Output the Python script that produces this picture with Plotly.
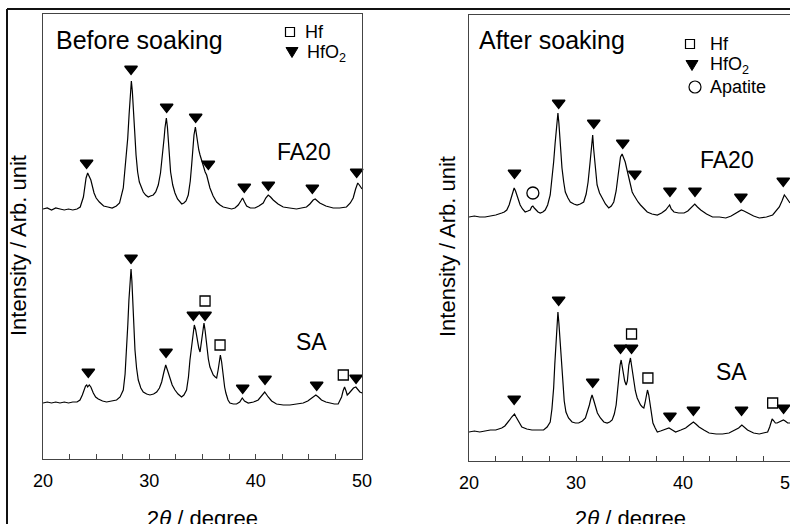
import plotly.graph_objects as go

# ---------------- data (2theta in degree, intensity in arb. unit) ----------------
bf_fa20_x = [20.0, 20.4, 20.8, 21.2, 21.6, 22.0, 22.4, 22.8, 23.2, 23.5, 23.8, 24.05, 24.2, 24.35, 24.5, 24.8, 25.0, 25.3, 25.7, 26.1, 26.5, 26.9, 27.2, 27.55, 27.8, 27.97, 28.1, 28.2, 28.31, 28.4, 28.5, 28.62, 28.75, 28.9, 29.06, 29.25, 29.43, 29.65, 29.9, 30.1, 30.37, 30.6, 30.84, 31.05, 31.25, 31.4, 31.47, 31.6, 31.7, 31.78, 31.9, 32.0, 32.2, 32.41, 32.65, 32.88, 33.05, 33.25, 33.45, 33.66, 33.85, 33.98, 34.1, 34.2, 34.33, 34.42, 34.5, 34.65, 34.77, 34.95, 35.1, 35.25, 35.39, 35.55, 35.7, 36.0, 36.33, 36.65, 36.95, 37.35, 37.74, 38.05, 38.36, 38.6, 38.77, 38.95, 39.15, 39.5, 39.93, 40.3, 40.71, 40.95, 41.18, 41.4, 41.65, 42.1, 42.59, 43.2, 43.84, 44.3, 44.78, 45.1, 45.41, 45.6, 45.8, 46.03, 46.6, 47.29, 47.9, 48.54, 48.9, 49.17, 49.4, 49.6, 49.75, 49.95, 50.0]
bf_fa20_y = [250, 251, 249, 251, 250, 249, 250, 249, 250, 252, 262, 281, 286, 282, 279, 266, 261, 257, 253, 252, 251, 253, 256, 271, 298, 321, 345, 364, 378, 368, 354, 328, 304, 287, 277, 271, 267, 264, 262, 263, 264, 267, 274, 286, 304, 322, 331, 341, 332, 321, 302, 287, 274, 266, 260, 257, 255, 256, 258, 264, 278, 294, 311, 324, 332, 324, 317, 309, 304, 297, 292, 287, 284, 277, 271, 263, 257, 254, 252, 251, 250, 251, 254, 258, 261, 257, 253, 251, 251, 253, 256, 261, 264, 262, 259, 255, 252, 251, 250, 251, 252, 255, 259, 260, 258, 256, 253, 251, 251, 252, 256, 261, 270, 276, 274, 271, 270]

bf_sa_x = [20.0, 20.4, 20.8, 21.2, 21.6, 22.0, 22.4, 22.8, 23.2, 23.48, 23.7, 23.86, 24.0, 24.11, 24.2, 24.35, 24.5, 24.73, 24.95, 25.2, 25.6, 25.98, 26.5, 26.92, 27.25, 27.55, 27.72, 27.86, 27.98, 28.08, 28.18, 28.28, 28.36, 28.43, 28.55, 28.65, 28.8, 28.96, 29.2, 29.43, 29.75, 30.06, 30.4, 30.69, 30.95, 31.16, 31.35, 31.54, 31.7, 31.94, 32.15, 32.41, 32.7, 33.03, 33.25, 33.5, 33.68, 33.82, 33.95, 34.07, 34.23, 34.36, 34.51, 34.65, 34.77, 34.9, 35.0, 35.14, 35.25, 35.39, 35.55, 35.7, 36.01, 36.2, 36.33, 36.47, 36.58, 36.68, 36.8, 36.95, 37.08, 37.2, 37.4, 37.58, 37.9, 38.2, 38.5, 38.74, 38.95, 39.3, 39.8, 40.24, 40.55, 40.85, 41.18, 41.5, 41.96, 42.6, 43.22, 43.9, 44.47, 44.9, 45.25, 45.66, 45.9, 46.19, 46.6, 46.98, 47.4, 47.76, 48.08, 48.22, 48.36, 48.5, 48.61, 48.8, 49.02, 49.2, 49.42, 49.6, 49.8, 50.0]
bf_sa_y = [56, 57, 56, 57, 56, 57, 56, 57, 57, 59, 64, 69, 73, 74, 72, 74, 72, 66, 62, 60, 58, 57, 58, 59, 62, 69, 85, 109, 135, 159, 180, 190, 178, 159, 132, 109, 91, 79, 71, 67, 65, 64, 65, 67, 71, 77, 86, 94, 89, 81, 74, 69, 65, 62, 64, 69, 82, 99, 112, 122, 134, 129, 119, 111, 107, 116, 126, 136, 128, 112, 100, 92, 84, 82, 81, 89, 99, 104, 97, 82, 72, 66, 59, 56, 55, 55, 57, 61, 58, 56, 57, 59, 63, 67, 62, 58, 55, 54, 54, 55, 56, 58, 61, 64, 62, 59, 57, 56, 55, 55, 62, 68, 72, 68, 64, 66, 69, 71, 72, 70, 67, 66]

af_fa20_x = [20.0, 20.5, 21.0, 21.5, 22.0, 22.5, 23.06, 23.3, 23.53, 23.75, 23.94, 24.1, 24.22, 24.35, 24.47, 24.6, 24.78, 25.0, 25.25, 25.5, 25.72, 25.85, 25.97, 26.1, 26.25, 26.45, 26.66, 26.9, 27.12, 27.35, 27.59, 27.75, 27.91, 28.05, 28.16, 28.31, 28.4, 28.47, 28.58, 28.69, 28.85, 29.0, 29.25, 29.47, 29.8, 30.1, 30.4, 30.72, 30.95, 31.13, 31.3, 31.41, 31.56, 31.65, 31.75, 31.85, 31.97, 32.2, 32.44, 32.75, 33.06, 33.3, 33.53, 33.75, 33.94, 34.05, 34.16, 34.31, 34.45, 34.6, 34.75, 34.94, 35.1, 35.25, 35.4, 35.56, 35.8, 36.03, 36.35, 36.66, 37.1, 37.6, 38.0, 38.38, 38.6, 38.75, 38.9, 39.16, 39.6, 40.1, 40.45, 40.72, 40.95, 41.1, 41.35, 41.66, 42.2, 42.76, 43.4, 44.0, 44.5, 44.94, 45.2, 45.45, 45.7, 46.04, 46.6, 47.13, 47.8, 48.38, 48.7, 49.0, 49.25, 49.47, 49.62, 49.78, 50.0]
af_fa20_y = [244, 245, 244, 244, 245, 246, 248, 249, 251, 256, 263, 269, 273, 270, 266, 261, 256, 252, 249, 250, 251, 254, 255, 253, 251, 249, 248, 249, 251, 256, 266, 280, 299, 318, 333, 348, 338, 326, 308, 293, 279, 269, 263, 259, 257, 256, 257, 259, 267, 279, 297, 309, 326, 312, 299, 286, 276, 268, 263, 257, 253, 255, 259, 270, 286, 296, 304, 307, 303, 299, 292, 283, 275, 269, 266, 263, 259, 256, 252, 249, 247, 246, 248, 251, 254, 256, 252, 249, 248, 248, 250, 253, 256, 257, 254, 251, 247, 244, 244, 243, 245, 248, 250, 251, 250, 248, 245, 243, 244, 246, 250, 254, 260, 266, 264, 261, 258]

af_sa_x = [20.0, 20.5, 21.0, 21.5, 22.0, 22.5, 23.06, 23.35, 23.62, 23.8, 23.99, 24.15, 24.25, 24.4, 24.56, 24.75, 24.94, 25.4, 25.88, 26.4, 26.97, 27.3, 27.59, 27.75, 27.91, 28.02, 28.13, 28.22, 28.31, 28.4, 28.5, 28.62, 28.75, 28.9, 29.06, 29.3, 29.63, 29.95, 30.25, 30.6, 30.88, 31.08, 31.25, 31.38, 31.5, 31.65, 31.81, 32.0, 32.28, 32.6, 32.91, 33.15, 33.38, 33.58, 33.75, 33.88, 34.0, 34.12, 34.22, 34.32, 34.41, 34.55, 34.69, 34.8, 34.94, 35.09, 35.2, 35.3, 35.4, 35.55, 35.72, 36.03, 36.2, 36.34, 36.45, 36.56, 36.68, 36.8, 36.97, 37.08, 37.19, 37.4, 37.6, 37.9, 38.22, 38.45, 38.69, 39.0, 39.31, 39.8, 40.25, 40.6, 40.97, 41.2, 41.5, 41.95, 42.44, 43.1, 43.69, 44.3, 44.94, 45.2, 45.5, 45.75, 46.03, 46.6, 47.13, 47.5, 47.91, 48.1, 48.33, 48.5, 48.63, 48.8, 49.0, 49.2, 49.38, 49.55, 49.78, 50.0]
af_sa_y = [29, 30, 29, 30, 31, 31, 33, 35, 38, 41, 44, 46, 47, 44, 41, 37, 34, 32, 31, 31, 31, 34, 39, 52, 73, 97, 123, 140, 149, 138, 123, 99, 76, 60, 49, 43, 39, 38, 38, 40, 43, 49, 56, 62, 66, 61, 54, 48, 43, 39, 38, 39, 41, 47, 56, 70, 86, 96, 101, 94, 86, 80, 76, 80, 96, 103, 95, 87, 79, 70, 63, 56, 54, 53, 58, 66, 71, 66, 53, 45, 38, 33, 29, 30, 31, 32, 33, 31, 29, 31, 33, 36, 39, 37, 34, 31, 28, 27, 27, 28, 31, 33, 36, 34, 31, 28, 27, 28, 29, 34, 42, 40, 38, 38, 39, 40, 41, 40, 38, 38]

# peak markers
bf_fa20_hfo2_x = [24.1, 28.28, 31.63, 34.36, 35.55, 38.93, 41.19, 45.33, 49.5]
bf_fa20_hfo2_y = [296, 390, 352, 342, 295, 272, 274, 271, 287]
bf_sa_hfo2_x = [24.26, 28.28, 31.57, 34.14, 35.24, 38.78, 40.88, 45.74, 49.44]
bf_sa_hfo2_y = [87, 201, 107, 144, 144, 71, 80, 74, 81]
bf_sa_hf_x = [35.24, 36.65, 48.24]
bf_sa_hf_y = [158, 114, 84]

af_fa20_hfo2_x = [24.25, 28.38, 31.66, 34.37, 35.5, 38.78, 41.12, 45.41, 49.37]
af_fa20_hfo2_y = [288, 358, 338, 318, 287, 270, 270, 264, 280]
af_fa20_apatite_x = [25.97]
af_fa20_apatite_y = [268]
af_sa_hfo2_x = [24.22, 28.38, 31.56, 34.16, 35.19, 38.78, 40.97, 45.47, 49.4]
af_sa_hfo2_y = [62, 161, 79, 113, 113, 45, 51, 51, 53]
af_sa_hf_x = [35.19, 36.72, 48.38]
af_sa_hf_y = [127, 83, 58]

legend_left = ["Hf", "HfO<sub>2</sub>"]
legend_right = ["Hf", "HfO<sub>2</sub>", "Apatite"]

# ---------------- figure ----------------
W, H = 790, 524
FONT = "Liberation Sans, Arial, sans-serif"
AXC = "#444"


def px_x(p):
    return p / W


def px_y(p):
    return 1 - p / H


fig = go.Figure()


def curve(x, y, axis):
    fig.add_trace(go.Scatter(x=x, y=y, mode="lines", line=dict(color="black", width=1.2),
                             xaxis="x" + axis, yaxis="y" + axis, showlegend=False,
                             hoverinfo="skip"))


def marks(x, y, axis, symbol, size):
    fig.add_trace(go.Scatter(x=x, y=y, mode="markers",
                             xaxis="x" + axis, yaxis="y" + axis,
                             marker=dict(symbol=symbol, size=size, color="black",
                                         line=dict(color="black", width=1.3)),
                             cliponaxis=False, showlegend=False, hoverinfo="skip"))


curve(bf_fa20_x, bf_fa20_y, "")
curve(bf_sa_x, bf_sa_y, "")
curve(af_fa20_x, af_fa20_y, "2")
curve(af_sa_x, af_sa_y, "2")

marks(bf_fa20_hfo2_x, bf_fa20_hfo2_y, "", "triangle-down", 11)
marks(bf_sa_hfo2_x, bf_sa_hfo2_y, "", "triangle-down", 11)
marks(bf_sa_hf_x, bf_sa_hf_y, "", "square-open", 10)
marks(af_fa20_hfo2_x, af_fa20_hfo2_y, "2", "triangle-down", 11)
marks(af_sa_hfo2_x, af_sa_hfo2_y, "2", "triangle-down", 11)
marks(af_sa_hf_x, af_sa_hf_y, "2", "square-open", 10)
marks(af_fa20_apatite_x, af_fa20_apatite_y, "2", "circle-open", 12)

xax = dict(range=[20, 50], tick0=20, dtick=10, ticks="inside", ticklen=5, tickcolor=AXC,
           minor=dict(dtick=2.5, ticks="inside", ticklen=5, tickcolor=AXC, showgrid=False),
           showline=True, mirror=True, linecolor=AXC, linewidth=1, showgrid=False,
           zeroline=False, automargin=False, ticklabelstandoff=5,
           ticklabeloverflow="allow",
           tickfont=dict(family=FONT, size=18, color="black"))
yax = dict(showticklabels=False, ticks="", showline=True, mirror=True, linecolor=AXC,
           linewidth=1, showgrid=False, zeroline=False, automargin=False)

fig.update_layout(
    width=W, height=H, autosize=False,
    margin=dict(l=0, r=0, t=0, b=0, pad=0),
    paper_bgcolor="white", plot_bgcolor="white",
    font=dict(family=FONT, color="black"),
    showlegend=False,
    xaxis=dict(xax, domain=[px_x(43), px_x(362)]),
    yaxis=dict(yax, domain=[px_y(459), px_y(14)], range=[0, 445]),
    xaxis2=dict(xax, domain=[px_x(469), 1.0], anchor="y2"),
    yaxis2=dict(yax, domain=[px_y(461), px_y(15)], range=[0, 446], anchor="x2"),
)


def label(text, x, y, size, xanchor="center", angle=0):
    fig.add_annotation(text=text, x=px_x(x), y=px_y(y), xref="paper", yref="paper",
                       xanchor=xanchor, yanchor="middle", showarrow=False,
                       textangle=angle, font=dict(family=FONT, size=size, color="black"))


label("Before soaking", 54, 40, 25, xanchor="left")
label("After soaking", 477, 40, 25, xanchor="left")
label("FA20", 304, 152, 23)
label("SA", 311, 342, 23)
label("FA20", 727, 160, 23)
label("SA", 731, 372, 23)
label("Intensity / Arb. unit", 19, 246, 22, angle=-90)
label("Intensity / Arb. unit", 447, 247, 22, angle=-90)
label("2<i>θ</i> / degree", 203, 518, 22)
label("2<i>θ</i> / degree", 630, 518, 22)


# legend keys (drawn in pixel layout coordinates)
def sq(cx, cy, h=4.5):
    fig.add_shape(type="rect", xref="paper", yref="paper",
                  x0=px_x(cx - h), x1=px_x(cx + h), y0=px_y(cy + h), y1=px_y(cy - h),
                  line=dict(color="black", width=1.2), fillcolor="white")


def tri(cx, cy):
    path = "M {} {} L {} {} L {} {} Z".format(px_x(cx - 6), px_y(cy - 4.5), px_x(cx + 6),
                                              px_y(cy - 4.5), px_x(cx), px_y(cy + 5.5))
    fig.add_shape(type="path", xref="paper", yref="paper", path=path,
                  line=dict(color="black", width=1), fillcolor="black")


def circ(cx, cy, r=6):
    fig.add_shape(type="circle", xref="paper", yref="paper",
                  x0=px_x(cx - r), x1=px_x(cx + r), y0=px_y(cy + r), y1=px_y(cy - r),
                  line=dict(color="black", width=1.2))


sq(290, 32)
tri(292, 52)
label(legend_left[0], 303, 32, 18, xanchor="left")
label(legend_left[1], 305, 53, 18, xanchor="left")

sq(690, 44)
tri(692, 65)
circ(695, 87)
label(legend_right[0], 708, 44, 18, xanchor="left")
label(legend_right[1], 708, 66, 18, xanchor="left")
label(legend_right[2], 708, 87, 18, xanchor="left")

# outer frame of the figure
fig.add_shape(type="line", xref="paper", yref="paper", x0=px_x(7), x1=1.0,
              y0=px_y(9), y1=px_y(9), line=dict(color="#111", width=2))
fig.add_shape(type="line", xref="paper", yref="paper", x0=px_x(7), x1=px_x(7),
              y0=px_y(9), y1=0, line=dict(color="#111", width=2))

fig.write_html("out.html", config={"displayModeBar": False},
               post_script="document.body.style.margin='0';document.body.style.overflow='hidden';")
